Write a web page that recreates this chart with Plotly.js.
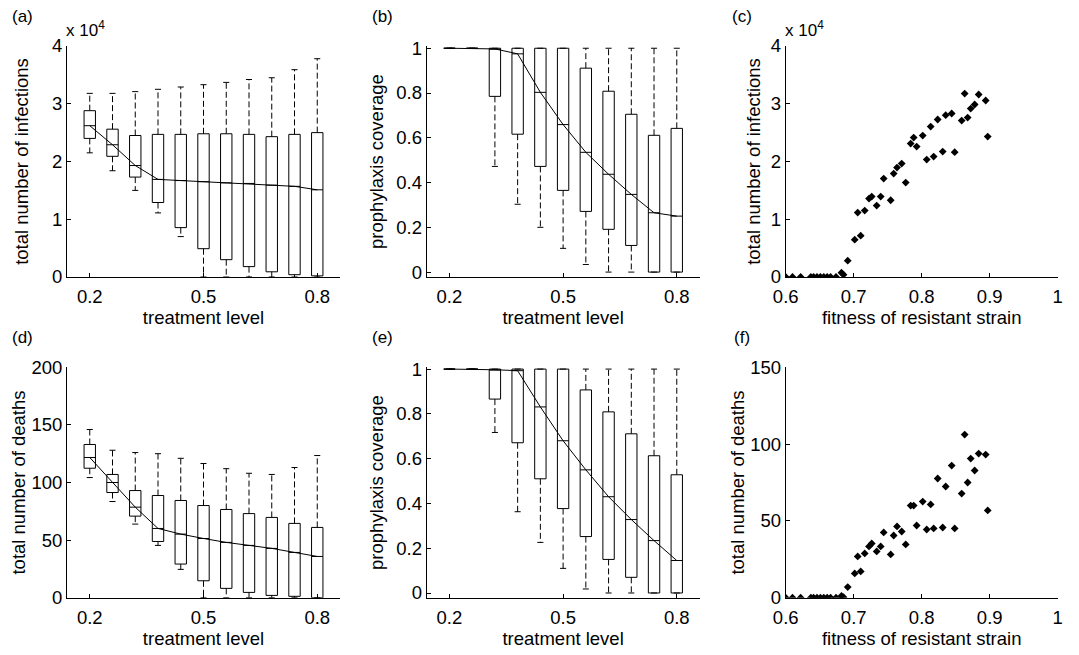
<!DOCTYPE html>
<html>
<head>
<meta charset="utf-8">
<script src="https://cdn.plot.ly/plotly-3.0.1.min.js"></script>
<style>html,body{margin:0;padding:0;background:#fff;}#chart{width:1079px;height:655px;}</style>
</head>
<body>
<div id="chart"></div>
<script>
// ---------- data ----------
const treatment = [0.2, 0.26, 0.32, 0.38, 0.44, 0.5, 0.56, 0.62, 0.68, 0.74, 0.8];

// (a) total number of infections vs treatment level
const infUpper  = [31800, 31800, 32100, 32500, 32900, 33300, 33700, 34200, 34500, 35900, 37800];
const infQ3     = [28800, 25600, 24500, 24700, 24700, 24800, 24800, 24700, 24300, 24700, 25000];
const infMedian = [26200, 22900, 19300, 16900, 16700, 16500, 16300, 16200, 15900, 15700, 15100];
const infQ1     = [24000, 20900, 17300, 12900, 8550, 4900, 3000, 1800, 900, 400, 200];
const infLower  = [21500, 18400, 15000, 11100, 7000, 0, 0, 0, 0, 0, 0];

// (b) prophylaxis coverage vs treatment level (top row)
const covUpperB  = [1, 1, 1, 1, 1, 1, 1, 1, 1, 1, 1];
const covQ3B     = [1, 1, 1, 1, 1, 1, 0.911, 0.808, 0.705, 0.611, 0.642];
const covMedianB = [1, 1, 0.997, 0.975, 0.803, 0.659, 0.535, 0.437, 0.347, 0.265, 0.250];
const covQ1B     = [1, 1, 0.785, 0.616, 0.472, 0.365, 0.271, 0.191, 0.119, 0, 0];
const covLowerB  = [1, 1, 0.472, 0.303, 0.200, 0.106, 0.034, 0, 0, 0, 0];

// (d) total number of deaths vs treatment level
const dthUpper  = [146, 128, 126, 125, 121, 116.5, 112, 108, 107, 113, 123.4];
const dthQ3     = [133, 107, 93, 88.7, 84.4, 80, 76.6, 73, 69.7, 64.5, 61];
const dthMedian = [121.7, 100, 78.6, 60.1, 55.2, 51.4, 48, 45.4, 42.8, 39.3, 35.8];
const dthQ1     = [112.4, 91.3, 70.8, 48.8, 29.2, 14.7, 8.1, 4.6, 2.0, 1.2, 0];
const dthLower  = [104.3, 83.5, 63.9, 45.4, 24.6, 0, 0, 0, 0, 0, 0];

// (e) prophylaxis coverage vs treatment level (bottom row)
const covUpperE  = [1, 1, 1, 1, 1, 1, 1, 1, 1, 1, 1];
const covQ3E     = [1, 1, 1, 1, 1, 1, 0.907, 0.809, 0.711, 0.613, 0.528];
const covMedianE = [1, 1, 0.997, 0.993, 0.831, 0.680, 0.550, 0.430, 0.328, 0.234, 0.145];
const covQ1E     = [1, 1, 0.866, 0.671, 0.510, 0.377, 0.252, 0.150, 0.070, 0, 0];
const covLowerE  = [1, 1, 0.717, 0.363, 0.226, 0.110, 0.018, 0, 0, 0, 0];

// (c),(f) outcomes vs fitness of resistant strain
const fitness = [0.600, 0.610, 0.622, 0.637, 0.641, 0.646, 0.651, 0.656, 0.661, 0.666, 0.674, 0.682, 0.685,
  0.6912, 0.7015, 0.7059, 0.7103, 0.7162, 0.7225, 0.7265, 0.7338, 0.7397, 0.7441, 0.7544, 0.7588, 0.7637,
  0.7706, 0.7765, 0.7838, 0.7882, 0.7926, 0.8015, 0.8074, 0.8132, 0.8176, 0.8235, 0.8309, 0.8353, 0.8441,
  0.8485, 0.8588, 0.8632, 0.8676, 0.8721, 0.8779, 0.8838, 0.8941, 0.8971];
const fitInfections = [0, 0, 0, 0, 0, 0, 0, 0, 0, 0, 0, 750, 400,
  2830, 6470, 11150, 7160, 11500, 13580, 13920, 12360, 13920, 17040, 13290, 17910, 18950,
  19640, 16350, 23110, 24150, 22590, 24490, 20340, 26050, 20860, 27270, 21720, 28020, 28310,
  21610, 27090, 31770, 27610, 29170, 29870, 31600, 30560, 24320];
const fitDeaths = [0, 0, 0, 0, 0, 0, 0, 0, 0, 0, 0, 1.1, 0.3,
  6.9, 15.8, 26.9, 17.1, 28.8, 33.4, 35.3, 30.1, 33.4, 42.5, 28.2, 40.5, 46.4,
  43.1, 34.7, 60.0, 60.0, 47.0, 62.6, 44.4, 60.7, 45.1, 77.6, 45.7, 72.4, 86.0,
  45.1, 67.8, 106.2, 75.0, 90.6, 82.8, 93.8, 93.2, 56.8];

const infTicks = [0, 10000, 20000, 30000, 40000];
const infTickText = ['0', '1', '2', '3', '4'];

// ---------- helpers ----------
const FONT = 'Liberation Sans, Arial, Helvetica, sans-serif';
const BOX_W = 0.03, CAP_HALF = 0.008;

function boxPanel(xa, ya, q1, med, q3, lo, hi) {
  const traces = [];
  traces.push({
    type: 'box', x: treatment, q1: q1, median: med, q3: q3,
    lowerfence: q1, upperfence: q3, width: BOX_W, whiskerwidth: 0,
    fillcolor: 'rgba(255,255,255,1)', line: {color: '#000', width: 1},
    boxpoints: false, xaxis: xa, yaxis: ya, showlegend: false, hoverinfo: 'x+y'
  });
  // dashed whiskers
  const wx = [], wy = [];
  treatment.forEach((t, i) => {
    wx.push(t, t, null, t, t, null);
    wy.push(q3[i], hi[i], null, q1[i], lo[i], null);
  });
  traces.push({type: 'scatter', mode: 'lines', x: wx, y: wy, xaxis: xa, yaxis: ya,
    line: {color: '#000', width: 1, dash: '6px,3px'}, showlegend: false, hoverinfo: 'skip'});
  // whisker caps
  const cx = [], cy = [];
  treatment.forEach((t, i) => {
    cx.push(t - CAP_HALF, t + CAP_HALF, null, t - CAP_HALF, t + CAP_HALF, null);
    cy.push(hi[i], hi[i], null, lo[i], lo[i], null);
  });
  traces.push({type: 'scatter', mode: 'lines', x: cx, y: cy, xaxis: xa, yaxis: ya,
    line: {color: '#000', width: 1}, showlegend: false, hoverinfo: 'skip'});
  // line through medians
  traces.push({type: 'scatter', mode: 'lines', x: treatment, y: med, xaxis: xa, yaxis: ya,
    line: {color: '#000', width: 1}, showlegend: false});
  return traces;
}

function scatterPanel(xa, ya, yv) {
  return [{type: 'scatter', mode: 'markers', x: fitness, y: yv, xaxis: xa, yaxis: ya,
    marker: {symbol: 'diamond', size: 6, color: '#000'}, showlegend: false}];
}

const data = [].concat(
  boxPanel('x', 'y', infQ1, infMedian, infQ3, infLower, infUpper),
  boxPanel('x2', 'y2', covQ1B, covMedianB, covQ3B, covLowerB, covUpperB),
  scatterPanel('x3', 'y3', fitInfections),
  boxPanel('x4', 'y4', dthQ1, dthMedian, dthQ3, dthLower, dthUpper),
  boxPanel('x5', 'y5', covQ1E, covMedianE, covQ3E, covLowerE, covUpperE),
  scatterPanel('x6', 'y6', fitDeaths)
);

// ---------- layout ----------
const W = 1079, H = 655;
const colDom = [[67 / W, 340 / W], [426.7 / W, 699.5 / W], [785.7 / W, 1057.7 / W]];
const rowDom = [[1 - 277 / H, 1 - 46 / H], [1 - 597.7 / H, 1 - 367.3 / H]];
const TICKFONT = {family: FONT, size: 18.5, color: '#000'};
const TITLEFONT = {family: FONT, size: 18.5, color: '#000'};

function ax(extra) {
  return Object.assign({
    showline: true, linecolor: '#000', linewidth: 1, mirror: false,
    ticks: 'inside', ticklen: 4, tickcolor: '#000', tickwidth: 1,
    showgrid: false, zeroline: false, tickfont: TICKFONT, fixedrange: true
  }, extra);
}
const xTreat = (dom, anchor) => ax({domain: dom, anchor: anchor, range: [0.14, 0.86],
  tickvals: [0.2, 0.5, 0.8], ticktext: ['0.2', '0.5', '0.8'], ticklabelstandoff: 3,
  title: {text: 'treatment level', font: TITLEFONT, standoff: 0}});
const xFit = (dom, anchor) => ax({domain: dom, anchor: anchor, range: [0.6, 1.0],
  tickvals: [0.6, 0.7, 0.8, 0.9, 1], ticktext: ['0.6', '0.7', '0.8', '0.9', '1'], ticklabelstandoff: 3,
  title: {text: 'fitness of resistant strain', font: TITLEFONT, standoff: 0}});
const covTicks = {tickvals: [0, 0.2, 0.4, 0.6, 0.8, 1], ticktext: ['0', '0.2', '0.4', '0.6', '0.8', '1']};

const layout = {
  width: W, height: H, margin: {l: 0, r: 0, t: 0, b: 0},
  paper_bgcolor: '#fff', plot_bgcolor: 'rgba(0,0,0,0)',
  font: {family: FONT, size: 18.5, color: '#000'},
  showlegend: false,
  xaxis: xTreat(colDom[0], 'y'),
  yaxis: ax({domain: rowDom[0], anchor: 'x', range: [0, 40000], tickvals: infTicks, ticktext: infTickText,
    title: {text: 'total number of infections', font: TITLEFONT, standoff: 18}}),
  xaxis2: xTreat(colDom[1], 'y2'),
  yaxis2: ax(Object.assign({domain: rowDom[0], anchor: 'x2', range: [-0.022, 1.01],
    title: {text: 'prophylaxis coverage', font: TITLEFONT, standoff: 7}}, covTicks)),
  xaxis3: xFit(colDom[2], 'y3'),
  yaxis3: ax({domain: rowDom[0], anchor: 'x3', range: [0, 40000], tickvals: infTicks, ticktext: infTickText,
    title: {text: 'total number of infections', font: TITLEFONT, standoff: 5}}),
  xaxis4: xTreat(colDom[0], 'y4'),
  yaxis4: ax({domain: rowDom[1], anchor: 'x4', range: [0, 200], tickvals: [0, 50, 100, 150, 200],
    ticktext: ['0', '50', '100', '150', '200'],
    title: {text: 'total number of deaths', font: TITLEFONT, standoff: 0}}),
  xaxis5: xTreat(colDom[1], 'y5'),
  yaxis5: ax(Object.assign({domain: rowDom[1], anchor: 'x5', range: [-0.021, 1.008],
    title: {text: 'prophylaxis coverage', font: TITLEFONT, standoff: 7}}, covTicks)),
  xaxis6: xFit(colDom[2], 'y6'),
  yaxis6: ax({domain: rowDom[1], anchor: 'x6', range: [0, 150], tickvals: [0, 50, 100, 150],
    ticktext: ['0', '50', '100', '150'],
    title: {text: 'total number of deaths', font: TITLEFONT, standoff: 0}}),
  annotations: [
    {text: '(a)', x: 22 / W, y: 1 - 17 / H},
    {text: '(b)', x: 382 / W, y: 1 - 17 / H},
    {text: '(c)', x: 742 / W, y: 1 - 17 / H},
    {text: '(d)', x: 22 / W, y: 1 - 338 / H},
    {text: '(e)', x: 382 / W, y: 1 - 338 / H},
    {text: '(f)', x: 742 / W, y: 1 - 338 / H}
  ].map(a => Object.assign({xref: 'paper', yref: 'paper', showarrow: false, xanchor: 'center', yanchor: 'middle',
    font: {family: FONT, size: 17, color: '#000'}}, a)).concat([
    {text: 'x 10<sup>4</sup>', x: 64 / W, y: 1 - 29 / H},
    {text: 'x 10<sup>4</sup>', x: 783 / W, y: 1 - 29 / H}
  ].map(a => Object.assign({xref: 'paper', yref: 'paper', showarrow: false, xanchor: 'left', yanchor: 'middle',
    font: {family: FONT, size: 17, color: '#000'}}, a)))
};

Plotly.newPlot('chart', data, layout, {displayModeBar: false, staticPlot: true});
</script>
</body>
</html>
